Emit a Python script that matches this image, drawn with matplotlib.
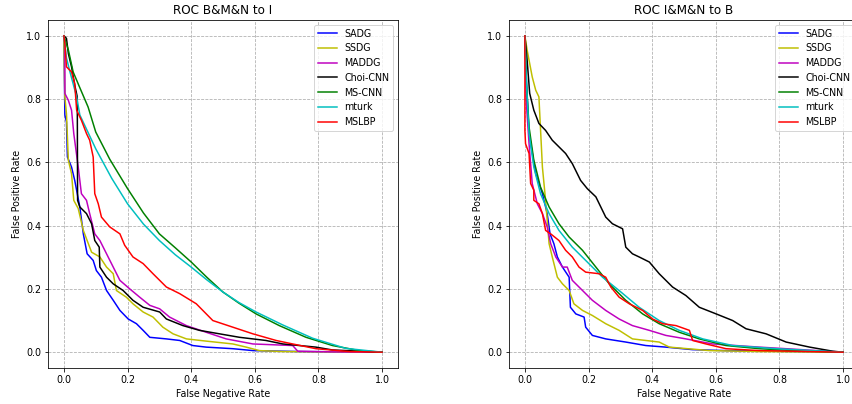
import numpy as np
import matplotlib
matplotlib.use("Agg")
import matplotlib.pyplot as plt

methods = ['SADG', 'SSDG', 'MADDG', 'Choi-CNN', 'MS-CNN', 'mturk', 'MSLBP']
colors = ['b', 'y', 'm', 'k', 'g', 'c', 'r']

# ---- ROC B&M&N to I  (x = FNR, y = FPR)
left_sadg_x = [0, 0.003, 0.008, 0.011, 0.024, 0.034, 0.050, 0.061, 0.073, 0.092, 0.102, 0.118, 0.134, 0.155, 0.176, 0.202, 0.228, 0.249, 0.270, 0.322, 0.364, 0.405, 0.447, 0.531, 0.594, 0.74, 1.0]
left_sadg_y = [1.0, 0.75, 0.728, 0.617, 0.585, 0.543, 0.459, 0.374, 0.311, 0.290, 0.258, 0.237, 0.195, 0.164, 0.132, 0.105, 0.090, 0.069, 0.047, 0.042, 0.037, 0.021, 0.016, 0.011, 0.005, 0.002, 0.0]

left_ssdg_x = [0, 0.002, 0.003, 0.008, 0.014, 0.024, 0.031, 0.045, 0.061, 0.073, 0.087, 0.113, 0.134, 0.155, 0.165, 0.196, 0.217, 0.249, 0.280, 0.311, 0.343, 0.385, 0.447, 0.531, 0.573, 0.614, 0.688, 1.0]
left_ssdg_y = [1.0, 0.85, 0.807, 0.754, 0.607, 0.564, 0.48, 0.454, 0.385, 0.353, 0.316, 0.301, 0.269, 0.248, 0.195, 0.174, 0.153, 0.127, 0.111, 0.079, 0.058, 0.042, 0.035, 0.026, 0.016, 0.005, 0.002, 0.0]

left_maddg_x = [0, 0.003, 0.003, 0.014, 0.024, 0.031, 0.045, 0.055, 0.071, 0.081, 0.097, 0.113, 0.134, 0.155, 0.176, 0.207, 0.238, 0.270, 0.301, 0.332, 0.385, 0.447, 0.51, 0.594, 0.719, 0.735, 0.844, 1.0]
left_maddg_y = [1.0, 0.976, 0.818, 0.796, 0.765, 0.691, 0.585, 0.501, 0.480, 0.438, 0.374, 0.353, 0.311, 0.269, 0.227, 0.200, 0.174, 0.148, 0.137, 0.111, 0.084, 0.063, 0.042, 0.026, 0.021, 0.003, 0.001, 0.0]

left_choi_x = [0, 0.008, 0.014, 0.024, 0.034, 0.042, 0.043, 0.050, 0.071, 0.087, 0.097, 0.111, 0.113, 0.134, 0.155, 0.186, 0.217, 0.249, 0.301, 0.322, 0.374, 0.426, 0.489, 0.552, 0.635, 0.688, 0.792, 0.844, 1.0]
left_choi_y = [1.0, 0.992, 0.944, 0.902, 0.844, 0.807, 0.48, 0.459, 0.438, 0.406, 0.353, 0.332, 0.269, 0.237, 0.216, 0.195, 0.164, 0.142, 0.127, 0.105, 0.084, 0.069, 0.058, 0.047, 0.037, 0.026, 0.016, 0.007, 0.0]

left_mscnn_x = [0, 0.014, 0.029, 0.050, 0.076, 0.100, 0.144, 0.200, 0.250, 0.300, 0.350, 0.400, 0.450, 0.500, 0.550, 0.604, 0.677, 0.761, 0.844, 0.928, 1.0]
left_mscnn_y = [1.0, 0.955, 0.886, 0.836, 0.775, 0.696, 0.610, 0.517, 0.440, 0.374, 0.330, 0.285, 0.236, 0.190, 0.155, 0.121, 0.084, 0.047, 0.021, 0.005, 0.0]

left_mturk_x = [0, 0.008, 0.019, 0.040, 0.050, 0.071, 0.100, 0.150, 0.200, 0.250, 0.300, 0.350, 0.400, 0.450, 0.500, 0.550, 0.604, 0.688, 0.782, 0.886, 1.0]
left_mturk_y = [1.0, 0.93, 0.886, 0.807, 0.75, 0.705, 0.643, 0.550, 0.469, 0.405, 0.353, 0.308, 0.269, 0.228, 0.190, 0.157, 0.127, 0.086, 0.044, 0.012, 0.0]

left_mslbp_x = [0, 0.003, 0.008, 0.024, 0.034, 0.040, 0.055, 0.071, 0.081, 0.092, 0.097, 0.108, 0.118, 0.144, 0.176, 0.191, 0.217, 0.249, 0.280, 0.322, 0.364, 0.416, 0.468, 0.531, 0.594, 0.667, 0.719, 0.792, 0.897, 1.0]
left_mslbp_y = [1.0, 0.976, 0.902, 0.886, 0.849, 0.765, 0.733, 0.691, 0.670, 0.617, 0.501, 0.469, 0.427, 0.396, 0.374, 0.338, 0.301, 0.280, 0.248, 0.206, 0.185, 0.153, 0.100, 0.079, 0.058, 0.037, 0.026, 0.011, 0.002, 0.0]

# ---- ROC I&M&N to B
right_sadg_x = [0, 0.005, 0.013, 0.034, 0.055, 0.070, 0.079, 0.091, 0.102, 0.118, 0.139, 0.143, 0.160, 0.186, 0.191, 0.212, 0.254, 0.317, 0.380, 0.443, 0.527, 0.632, 1.0]
right_sadg_y = [1.0, 0.849, 0.691, 0.564, 0.501, 0.438, 0.374, 0.343, 0.301, 0.269, 0.237, 0.142, 0.121, 0.111, 0.079, 0.053, 0.042, 0.032, 0.021, 0.016, 0.008, 0.005, 0.0]

right_ssdg_x = [0, 0.007, 0.023, 0.034, 0.044, 0.055, 0.065, 0.076, 0.086, 0.102, 0.118, 0.139, 0.154, 0.181, 0.212, 0.254, 0.296, 0.338, 0.422, 0.454, 0.580, 0.737, 1.0]
right_ssdg_y = [1.0, 0.955, 0.870, 0.828, 0.807, 0.585, 0.480, 0.343, 0.301, 0.237, 0.216, 0.195, 0.153, 0.132, 0.116, 0.090, 0.069, 0.042, 0.032, 0.016, 0.005, 0.002, 0.0]

right_maddg_x = [0, 0.004, 0.013, 0.023, 0.039, 0.055, 0.070, 0.081, 0.097, 0.118, 0.133, 0.149, 0.181, 0.212, 0.254, 0.296, 0.338, 0.391, 0.443, 0.506, 0.590, 0.737, 0.821, 1.0]
right_maddg_y = [1.0, 0.796, 0.659, 0.533, 0.469, 0.438, 0.396, 0.343, 0.301, 0.269, 0.269, 0.227, 0.195, 0.164, 0.132, 0.105, 0.084, 0.069, 0.053, 0.042, 0.026, 0.016, 0.011, 0.0]

right_choi_x = [0, 0.007, 0.015, 0.028, 0.044, 0.065, 0.086, 0.107, 0.128, 0.149, 0.175, 0.196, 0.223, 0.254, 0.275, 0.307, 0.317, 0.338, 0.359, 0.391, 0.422, 0.464, 0.506, 0.548, 0.601, 0.653, 0.695, 0.758, 0.821, 0.895, 0.968, 1.0]
right_choi_y = [1.0, 0.923, 0.818, 0.765, 0.723, 0.701, 0.670, 0.649, 0.628, 0.596, 0.543, 0.517, 0.491, 0.427, 0.406, 0.390, 0.332, 0.311, 0.301, 0.285, 0.248, 0.206, 0.179, 0.142, 0.121, 0.100, 0.074, 0.058, 0.032, 0.016, 0.003, 0.0]

right_mscnn_x = [0, 0.005, 0.013, 0.028, 0.049, 0.076, 0.107, 0.139, 0.181, 0.223, 0.265, 0.317, 0.370, 0.422, 0.485, 0.548, 0.632, 0.737, 0.842, 1.0]
right_mscnn_y = [1.0, 0.849, 0.712, 0.607, 0.522, 0.459, 0.406, 0.364, 0.322, 0.269, 0.216, 0.164, 0.121, 0.090, 0.063, 0.042, 0.021, 0.011, 0.005, 0.0]

right_mturk_x = [0, 0.005, 0.013, 0.028, 0.049, 0.076, 0.107, 0.149, 0.191, 0.244, 0.296, 0.359, 0.422, 0.485, 0.559, 0.653, 0.790, 1.0]
right_mturk_y = [1.0, 0.849, 0.691, 0.585, 0.501, 0.438, 0.385, 0.332, 0.290, 0.237, 0.195, 0.142, 0.100, 0.069, 0.042, 0.021, 0.011, 0.0]

right_mslbp_x = [0, 0.0, 0.002, 0.013, 0.018, 0.028, 0.028, 0.044, 0.055, 0.065, 0.081, 0.107, 0.128, 0.149, 0.170, 0.191, 0.233, 0.254, 0.270, 0.296, 0.328, 0.370, 0.401, 0.433, 0.475, 0.517, 0.527, 0.569, 0.632, 0.737, 1.0]
right_mslbp_y = [1.0, 0.701, 0.659, 0.628, 0.533, 0.512, 0.480, 0.469, 0.438, 0.385, 0.374, 0.353, 0.322, 0.301, 0.269, 0.253, 0.248, 0.237, 0.206, 0.174, 0.153, 0.132, 0.105, 0.090, 0.084, 0.069, 0.037, 0.026, 0.011, 0.005, 0.0]

left_curves = [(left_sadg_x, left_sadg_y), (left_ssdg_x, left_ssdg_y), (left_maddg_x, left_maddg_y),
               (left_choi_x, left_choi_y), (left_mscnn_x, left_mscnn_y), (left_mturk_x, left_mturk_y),
               (left_mslbp_x, left_mslbp_y)]
right_curves = [(right_sadg_x, right_sadg_y), (right_ssdg_x, right_ssdg_y), (right_maddg_x, right_maddg_y),
                (right_choi_x, right_choi_y), (right_mscnn_x, right_mscnn_y), (right_mturk_x, right_mturk_y),
                (right_mslbp_x, right_mslbp_y)]

titles = ['ROC B&M&N to I', 'ROC I&M&N to B']
ticks = [0.0, 0.2, 0.4, 0.6, 0.8, 1.0]

plt.rcParams['font.size'] = 9.5

fig = plt.figure(figsize=(852 / 72, 404 / 72), dpi=72)
# the right panel runs past the figure edge, as in the cropped original
ax1 = fig.add_axes([48 / 852, 36 / 404, 350 / 852, 348 / 404])
ax2 = fig.add_axes([509 / 852, 36 / 404, 350 / 852, 348 / 404])

for ax, curves, title in [(ax1, left_curves, titles[0]), (ax2, right_curves, titles[1])]:
    for (x, y), name, c in zip(curves, methods, colors):
        ax.plot(x, y, color=c, label=name, linewidth=1.5)
    ax.set_xlim(-0.05, 1.05)
    ax.set_ylim(-0.05, 1.05)
    ax.set_xticks(ticks)
    ax.set_yticks(ticks)
    ax.grid(True, linestyle='--', color='#b0b0b0', linewidth=0.8)
    ax.set_xlabel('False Negative Rate')
    ax.set_ylabel('False Positive Rate')
    ax.set_title(title, fontsize=12)
    ax.legend(loc='upper right', fontsize=9.5)

fig.savefig('out.png', dpi=72)
